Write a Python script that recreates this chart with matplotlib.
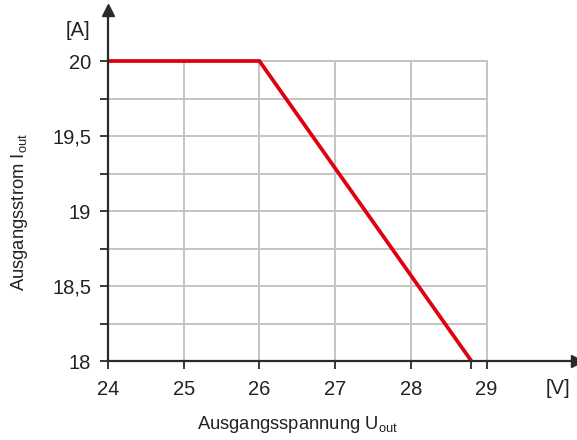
import matplotlib
matplotlib.use("Agg")
import matplotlib.pyplot as plt

plt.rcParams['font.family'] = ['Liberation Sans', 'DejaVu Sans']
plt.rcParams['mathtext.fontset'] = 'custom'
plt.rcParams['mathtext.rm'] = 'Liberation Sans'

# Characteristic curve: output voltage vs. output current
u_out = [24, 26, 28.8]
i_out = [20, 20, 18]

x_ticks = [24, 25, 26, 27, 28, 29]
y_major = [18, 18.5, 19, 19.5, 20]
y_labels = ["18", "18,5", "19", "19,5", "20"]
y_minor = [18.25, 18.75, 19.25, 19.75]

x_min, x_max = 24, 29
y_min, y_max = 18, 20

axis_col = "#2a2a2a"
grid_col = "#c4c4c4"
text_col = "#222222"
red = "#e0000f"

fig = plt.figure(figsize=(5.77, 4.40), dpi=100)
ax = fig.add_axes([108/577, 79/440, 469/577, 351/440])
ax.set_xlim(24, 24 + 469/75.7)
ax.set_ylim(18, 18 + 351/150)

for s in ("top", "right"):
    ax.spines[s].set_visible(False)
for s in ("left", "bottom"):
    ax.spines[s].set_color(axis_col)
    ax.spines[s].set_linewidth(1.6)
    ax.spines[s].set_zorder(4)

# grid limited to the data region
for x in x_ticks[1:]:
    ax.plot([x, x], [y_min, y_max], color=grid_col, lw=1.4, zorder=1)
for y in y_major[1:] + y_minor:
    ax.plot([x_min, x_max], [y, y], color=grid_col, lw=1.4, zorder=1)

ax.plot(u_out, i_out, color=red, lw=2.7, zorder=3, solid_capstyle="butt",
        solid_joinstyle="miter", clip_on=False)

# arrow heads on the axes
ax.plot([1], [0], marker=">", ms=8, color=axis_col, transform=ax.transAxes,
        clip_on=False, zorder=5)
ax.plot([0], [1], marker="^", ms=8, color=axis_col, transform=ax.transAxes,
        clip_on=False, zorder=5)

ax.set_xticks(x_ticks + [u_out[-1]])
ax.set_xticklabels([str(v) for v in x_ticks] + [""])
ax.set_yticks(y_major)
ax.set_yticklabels(y_labels)
ax.set_yticks(y_minor, minor=True)
ax.tick_params(axis="both", which="both", direction="out", length=6,
               width=1.3, color=axis_col, labelsize=14.5, labelcolor=text_col)
ax.tick_params(axis="x", pad=8)
ax.tick_params(axis="y", pad=6)

fig.text(78/577, 1 - 30/440, "[A]", ha="center", va="center",
         fontsize=14.5, color=text_col)
fig.text(558/577, 1 - 389/440, "[V]", ha="center", va="center",
         fontsize=14.5, color=text_col)

fig.text(297/577, 1 - 424/440, r"Ausgangsspannung U$_{\mathregular{out}}$",
         ha="center", va="center", fontsize=13.2, color=text_col)
fig.text(20/577, 1 - 212/440, r"Ausgangsstrom I$_{\mathregular{out}}$",
         ha="center", va="center", rotation=90, fontsize=13.2, color=text_col)

fig.savefig("out.png", dpi=100)
